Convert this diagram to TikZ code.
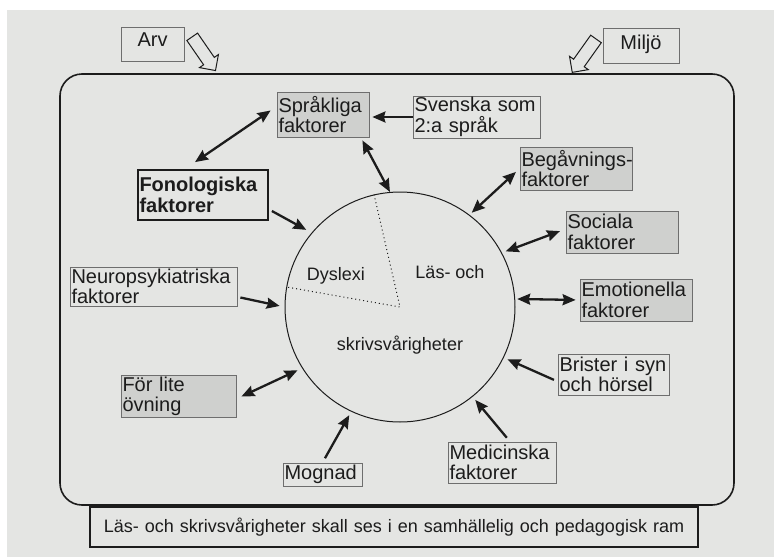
\documentclass[tikz,border=0pt]{standalone}
\usepackage{fontspec}
\setmainfont{Liberation Sans}
\usetikzlibrary{arrows.meta,shapes.arrows}
\definecolor{papper}{HTML}{E4E5E3}
\definecolor{ruta}{HTML}{CFD0CE}
\definecolor{ink}{HTML}{1C1C1C}
\definecolor{kant}{HTML}{6E6E6E}

\begin{document}
\begin{tikzpicture}[x=1pt, y=-1pt, >={Stealth[length=13pt,width=11pt,inset=1.5pt]},
  every node/.style={font=\fontsize{20}{20.5}\selectfont, text=ink},
  faktor/.style={draw=kant, line width=0.8pt, inner sep=1.5pt, align=left},
  gra/.style={faktor, fill=ruta},
  pil/.style={->, line width=2.3pt, ink},
  dpil/.style={<->, line width=2.3pt, ink},
  kvar/.style={single arrow, draw=ink, line width=1pt, fill=papper, inner sep=6pt,
    minimum width=22pt, minimum height=41pt, single arrow head extend=5pt}]

  \useasboundingbox (0,0) rectangle (774,557);
  \fill[white] (0,0) rectangle (774,557);
  \fill[papper] (7,10) rectangle (774,557);

  % ram och rubrik
  \draw[ink, line width=1.6pt, rounded corners=22pt] (60,74) rectangle (734,505);
  \node[faktor, draw=ink, line width=1.2pt, fill=papper, text width=605pt, minimum height=40pt,
    align=center, font=\fontsize{18}{18}\selectfont] (ram) at (394,527)
    {Läs- och skrivsvårigheter skall ses i en samhällelig och pedagogisk ram};

  \node[faktor, text width=60pt, align=center, text height=17pt, text depth=13.5pt] (arv) at (152.5,44.5) {Arv};
  \node[faktor, text width=73pt, align=center, text height=19pt, text depth=12.5pt] (milj) at (641,46) {Miljö};
  \node[kvar, rotate=-55.4] (arvpil) at (202,51) {};
  \node[kvar, rotate=-125.4] (miljpil) at (586,53) {};

  % cirkeln
  \node[circle, draw=ink, line width=1pt, minimum size=230pt, inner sep=0pt] (ls) at (400,307) {};
  \draw[ink, line width=1pt, dash pattern=on 1pt off 3pt] (ls.103) -- (ls.center) -- (ls.170);
  \node[font=\fontsize{18}{18}\selectfont] (dys) at (336,276) {Dyslexi};
  \node[font=\fontsize{18}{18}\selectfont] (lasoch) at (450,272) {Läs- och};
  \node[font=\fontsize{18}{18}\selectfont] (skriv) at (400,345) {skrivsvårigheter};

  % faktorer
  \node[gra, text width=89pt, minimum height=45pt] (spr) at (323,114.5) {Språkliga\\faktorer};
  \node[faktor, text width=124pt, minimum height=40pt] (sv) at (476.5,117) {Svenska som\\2:a språk};
  \node[faktor, draw=ink, line width=1.8pt, text width=127pt, minimum height=50pt,
    font=\fontsize{20}{20.5}\selectfont\bfseries] (fon) at (203,195) {Fonologiska\\faktorer};
  \node[gra, text width=109pt, minimum height=43pt] (beg) at (576,168.5) {\mbox{Begåvnings-}\\faktorer};
  \node[gra, text width=109pt, minimum height=42pt] (soc) at (622,232) {Sociala\\faktorer};
  \node[gra, text width=109pt, minimum height=42pt] (emo) at (636,300) {Emotionella\\faktorer};
  \node[faktor, text width=108pt, minimum height=41pt] (bri) at (613.5,374.5) {Brister i syn\\och hörsel};
  \node[faktor, text width=105pt, minimum height=41pt] (med) at (502,462.5) {Medicinska\\faktorer};
  \node[faktor, text width=76pt, minimum height=23pt] (mog) at (322.5,474.5) {Mognad};
  \node[gra, text width=112pt, minimum height=41pt] (ovn) at (178.5,396.5) {För lite\\övning};
  \node[faktor, text width=164pt, minimum height=39pt] (neu) at (153.5,286.5) {Neuropsykiatriska\\faktorer};

  \draw[dpil] ([xshift=-8pt, yshift=7pt]fon.north) -- ([xshift=-6pt, yshift=4pt]spr.west);
  \draw[pil, shorten >=3pt] (sv.west) -- (sv.west -| spr.east);
  \draw[dpil] ([xshift=-7pt, yshift=-3pt]spr.south east) -- (ls.95);
  \draw[pil, shorten >=6pt] ([xshift=3pt, yshift=-16pt]fon.east) -- (ls.140);
  \draw[pil, shorten >=5pt] ([xshift=3pt, yshift=-11pt]neu.east) -- (ls.180);
  \draw[dpil, shorten >=5pt] ([xshift=5pt]ovn.east) -- (ls.212);
  \draw[pil, shorten <=5pt, shorten >=4pt] (mog.north) -- (ls.245);
  \draw[pil, shorten <=5pt, shorten >=4pt] ([xshift=8pt]med.north) -- (ls.309);
  \draw[pil, shorten <=4pt, shorten >=4pt] ([yshift=-7pt]bri.west) -- (ls.334);
  \draw[dpil, shorten <=2pt, shorten >=4pt] (ls.4) -- (emo.west);
  \draw[dpil, shorten <=4pt, shorten >=6pt] (ls.28) -- ([yshift=3pt]soc.west);
  \draw[dpil, shorten <=3pt, shorten >=5pt] (ls.53) -- (beg.west);

\end{tikzpicture}
\end{document}
